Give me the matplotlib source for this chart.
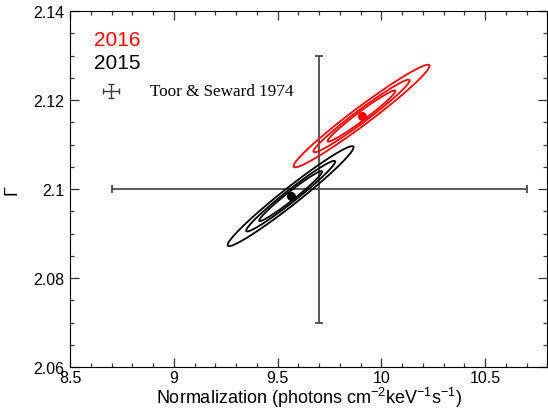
import matplotlib
matplotlib.use('Agg')
import matplotlib.pyplot as plt
from matplotlib.ticker import MultipleLocator, FuncFormatter
import numpy as np

plt.rcParams['font.family'] = ['Liberation Sans', 'DejaVu Sans']
plt.rcParams['mathtext.fontset'] = 'custom'
plt.rcParams['mathtext.rm'] = 'Liberation Sans'
plt.rcParams['mathtext.it'] = 'Liberation Sans:italic'

# best fits (normalization, photon index) and their 1-sigma errors / correlation
years = ['2016', '2015']
colors = ['red', 'black']
norm_best = [9.904, 9.5625]
gamma_best = [2.1164, 2.0984]
norm_sig = [0.108, 0.100]
gamma_sig = [0.0038, 0.0037]
rho = [0.977, 0.977]
# delta chi^2 levels for 68%, 90%, 99% (2 parameters)
levels = [2.30, 4.61, 9.21]

# Toor & Seward 1974
ts_norm = 9.7
ts_norm_err = 1.0
ts_gamma = 2.1
ts_gamma_err = 0.03

fig = plt.figure(figsize=(5.48, 4.10), dpi=100)
ax = fig.add_axes([0.128, 0.1024, 0.871, 0.8683])

ax.errorbar(ts_norm, ts_gamma, xerr=ts_norm_err, yerr=ts_gamma_err, fmt='none',
            ecolor='#3c3c3c', elinewidth=1.2, capsize=3, capthick=1.2)

xx, yy = np.meshgrid(np.linspace(8.5, 10.8, 700), np.linspace(2.06, 2.14, 700))
for i in range(len(years)):
    dx = (xx - norm_best[i]) / norm_sig[i]
    dy = (yy - gamma_best[i]) / gamma_sig[i]
    chi2 = (dx**2 - 2*rho[i]*dx*dy + dy**2) / (1 - rho[i]**2)
    ax.contour(xx, yy, chi2, levels=levels, colors=colors[i], linewidths=1.3)
    ax.plot(norm_best[i], gamma_best[i], 'o', color=colors[i], ms=5.5)

# legend
ax.text(0.05, 0.921, years[0], color=colors[0], fontsize=15, transform=ax.transAxes, va='center')
ax.text(0.05, 0.854, years[1], color=colors[1], fontsize=15, transform=ax.transAxes, va='center')
ax.errorbar(0.086, 0.776, xerr=0.017, yerr=0.02, fmt='none', ecolor='#3c3c3c',
            elinewidth=1.0, capsize=2.5, capthick=1.0, transform=ax.transAxes)
ax.text(0.168, 0.776, 'Toor & Seward 1974', fontsize=12.3, family='Liberation Serif',
        transform=ax.transAxes, va='center')

ax.set_xlim(8.5, 10.8)
ax.set_ylim(2.06, 2.14)
ax.xaxis.set_major_locator(MultipleLocator(0.5))
ax.xaxis.set_minor_locator(MultipleLocator(0.1))
ax.yaxis.set_major_locator(MultipleLocator(0.02))
ax.yaxis.set_minor_locator(MultipleLocator(0.005))
fmt = FuncFormatter(lambda v, p: '%g' % round(v, 4))
ax.xaxis.set_major_formatter(fmt)
ax.yaxis.set_major_formatter(fmt)
ax.tick_params(which='both', direction='in', top=True, right=True, labelsize=11.5, color='#333333')
ax.tick_params(which='major', length=6.5, width=0.9)
ax.tick_params(which='minor', length=3, width=0.9)
ax.tick_params(axis='x', pad=2)
ax.tick_params(axis='y', pad=4)

ax.set_xlabel(r'Normalization (photons cm$^{-2}$keV$^{-1}$s$^{-1}$)', fontsize=13, labelpad=0)
ax.set_ylabel('Γ', fontsize=13, labelpad=9)

plt.savefig('out.png', dpi=100)
